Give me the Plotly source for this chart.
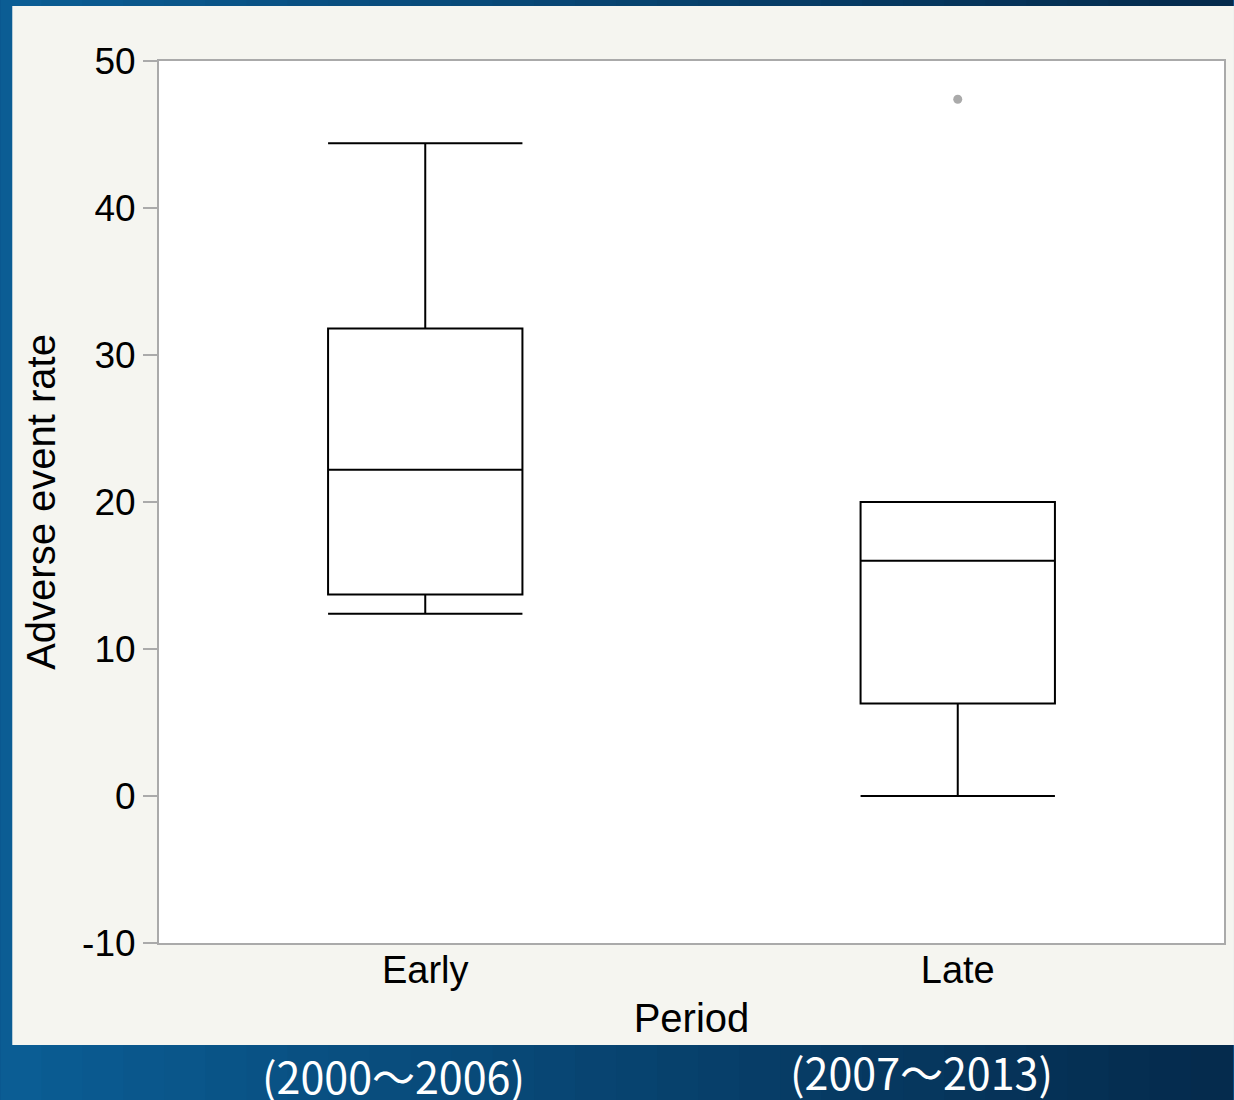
import plotly.graph_objects as go

categories = ["Early", "Late"]
q1 = [13.7, 6.3]
median = [22.2, 16.0]
q3 = [31.8, 20.0]
lowerfence = [12.4, 0.0]
upperfence = [44.4, 20.0]
outlier_x = ["Late"]
outlier_y = [47.4]
period_labels = ["(2000〜2006)", "(2007〜2013)"]
y_ticks = [-10, 0, 10, 20, 30, 40, 50]
y_ticktext = ["-10", "0", "10", "20", "30", "40", "50"]

W, H = 1234, 1100
L, R, T, B = 159, 8, 61, 157
pw, ph = W - L - R, H - T - B

def px_to_paper_x(px):
    return (px - L) / pw

def px_to_paper_y(py):
    return (H - B - py) / ph

fig = go.Figure()
fig.add_trace(go.Box(
    x=categories, q1=q1, median=median, q3=q3,
    lowerfence=lowerfence, upperfence=upperfence,
    fillcolor="white", line=dict(color="black", width=2),
    whiskerwidth=1, width=0.365, boxpoints=False, showlegend=False,
    hoverinfo="skip",
))
fig.add_trace(go.Scatter(
    x=outlier_x, y=outlier_y, mode="markers",
    marker=dict(color="#aaaaaa", size=9), showlegend=False,
))

shapes = []
# gradient background
c0 = (11, 93, 148)
c1 = (5, 43, 77)
n = 30
for i in range(n):
    t = i / (n - 1)
    col = tuple(int(c0[k] + (c1[k] - c0[k]) * t) for k in range(3))
    x0 = W * i / n
    x1 = W * (i + 1) / n + 1
    shapes.append(dict(type="rect", xref="paper", yref="paper",
                       x0=px_to_paper_x(x0), x1=px_to_paper_x(x1),
                       y0=px_to_paper_y(H), y1=px_to_paper_y(0),
                       fillcolor="rgb(%d,%d,%d)" % col, line=dict(width=0), layer="below"))
# light panel
shapes.append(dict(type="rect", xref="paper", yref="paper",
                   x0=px_to_paper_x(12), x1=px_to_paper_x(W + 2),
                   y0=px_to_paper_y(1045), y1=px_to_paper_y(6),
                   fillcolor="#f5f5f0", line=dict(width=0), layer="below"))
# white plot area
shapes.append(dict(type="rect", xref="paper", yref="paper",
                   x0=0, x1=1, y0=0, y1=1,
                   fillcolor="white", line=dict(width=0), layer="below"))
fig.update_layout(shapes=shapes)

fig.add_annotation(text=period_labels[0], xref="paper", yref="paper",
                   x=px_to_paper_x(394), y=px_to_paper_y(1075), showarrow=False,
                   font=dict(family="Noto Sans CJK JP", size=43, color="white"),
                   xanchor="center", yanchor="middle")
fig.add_annotation(text=period_labels[1], xref="paper", yref="paper",
                   x=px_to_paper_x(923), y=px_to_paper_y(1071), showarrow=False,
                   font=dict(family="Noto Sans CJK JP", size=43, color="white"),
                   xanchor="center", yanchor="middle")

font_family = "Liberation Sans, Arial, sans-serif"
fig.update_layout(
    width=W, height=H,
    margin=dict(l=L, r=R, t=T, b=B, pad=0),
    paper_bgcolor="#0a4f86",
    plot_bgcolor="rgba(0,0,0,0)",
    font=dict(family=font_family, size=38, color="black"),
    xaxis=dict(
        type="category", range=[-0.5, 1.5],
        showline=True, linecolor="#aaaaaa", linewidth=2, mirror=True,
        showgrid=False, ticks="", tickfont=dict(size=38),
        ticklabelstandoff=-8,
        title=dict(text="Period", font=dict(size=40), standoff=14),
        zeroline=False,
    ),
    yaxis=dict(
        range=[-10, 50], tickvals=y_ticks, ticktext=y_ticktext,
        showline=True, linecolor="#aaaaaa", linewidth=2, mirror=True,
        showgrid=False, zeroline=False,
        ticks="outside", ticklen=14, tickcolor="#aaaaaa", tickwidth=2,
        tickfont=dict(size=37),
        title=dict(text="Adverse event rate", font=dict(size=40), standoff=14),
    ),
)

fig.write_html("out.html", config={"displayModeBar": False},
               post_script="document.body.style.margin='0';")
